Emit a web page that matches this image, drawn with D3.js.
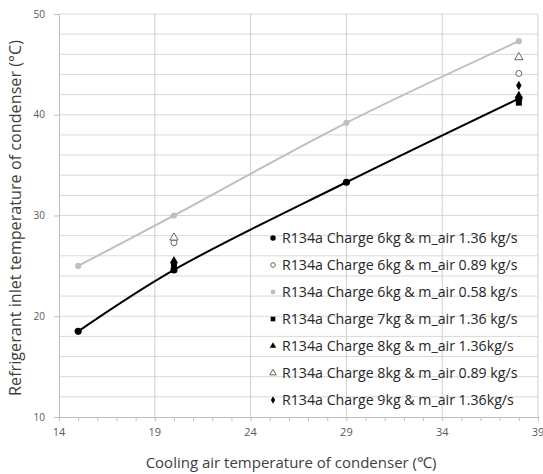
<!DOCTYPE html>
<html>
<head>
<meta charset="utf-8">
<script src="https://cdn.jsdelivr.net/npm/d3@7"></script>
<style>
  body { margin: 0; background: #fff; }
  svg { font-family: "Open Sans", "Noto Sans", sans-serif; }
</style>
</head>
<body>
<svg width="543" height="474"></svg>
<script>
// values
var xTicks = [14, 19, 24, 29, 34, 39];
var yTicks = [10, 20, 30, 40, 50];

var c6kg136x = [15, 20, 29, 38];
var c6kg136y = [18.5, 24.6, 33.3, 41.6];
var c6kg089x = [20, 38];
var c6kg089y = [27.3, 44.1];
var c6kg058x = [15, 20, 29, 38];
var c6kg058y = [25.0, 30.0, 39.2, 47.3];
var c7kg136x = [20, 38];
var c7kg136y = [25.2, 41.2];
var c8kg136x = [20, 38];
var c8kg136y = [25.5, 41.9];
var c8kg089x = [20, 38];
var c8kg089y = [27.8, 45.7];
var c9kg136x = [20, 38];
var c9kg136y = [24.9, 42.9];

var legendLabels = [
    "R134a Charge 6kg & m_air 1.36 kg/s",
    "R134a Charge 6kg & m_air 0.89 kg/s",
    "R134a Charge 6kg & m_air 0.58 kg/s",
    "R134a Charge 7kg & m_air 1.36 kg/s",
    "R134a Charge 8kg & m_air 1.36kg/s",
    "R134a Charge 8kg & m_air 0.89 kg/s",
    "R134a Charge 9kg & m_air 1.36kg/s"
];

function zip(xs, ys) {
    return xs.map(function(x, i) { return {x: x, y: ys[i]}; });
}

var series = [
    {pts: zip(c6kg136x, c6kg136y), sym: d3.symbolCircle, size: 40, fill: "#000", stroke: "none", line: "#000"},
    {pts: zip(c6kg089x, c6kg089y), sym: d3.symbolCircle, size: 28, fill: "#fff", stroke: "#666"},
    {pts: zip(c6kg058x, c6kg058y), sym: d3.symbolCircle, size: 30, fill: "#bfbfbf", stroke: "none", line: "#bfbfbf"},
    {pts: zip(c7kg136x, c7kg136y), sym: d3.symbolSquare, size: 36, fill: "#000", stroke: "none"},
    {pts: zip(c8kg136x, c8kg136y), sym: d3.symbolTriangle, size: 30, fill: "#000", stroke: "none"},
    {pts: zip(c8kg089x, c8kg089y), sym: d3.symbolTriangle, size: 30, fill: "#fff", stroke: "#666"},
    {pts: zip(c9kg136x, c9kg136y), sym: d3.symbolDiamond, size: 26, fill: "#000", stroke: "none"}
];

var svg = d3.select("svg");
var plotLeft = 59, plotRight = 538, plotTop = 14, plotBottom = 417;

var x = d3.scaleLinear().domain([14, 39]).range([plotLeft, plotRight]);
var y = d3.scaleLinear().domain([10, 50]).range([plotBottom, plotTop]);

// grid
svg.append("g")
    .selectAll("line")
    .data(d3.range(12, 51, 2))
    .enter()
    .append("line")
    .attr("x1", plotLeft).attr("x2", plotRight)
    .attr("y1", function(d) { return y(d); })
    .attr("y2", function(d) { return y(d); })
    .attr("stroke", "#d9d9d9");

svg.append("g")
    .selectAll("line")
    .data(xTicks.slice(1))
    .enter()
    .append("line")
    .attr("x1", function(d) { return x(d); })
    .attr("x2", function(d) { return x(d); })
    .attr("y1", plotTop).attr("y2", plotBottom)
    .attr("stroke", "#d0d0d0");

// axes
var xAxis = svg.append("g")
    .attr("transform", "translate(0," + plotBottom + ")")
    .call(d3.axisBottom(x).tickValues(d3.range(14, 40, 1)).tickSize(4).tickFormat(""));
xAxis.select(".domain").attr("stroke", "#bfbfbf");
xAxis.selectAll(".tick line").attr("stroke", "#bfbfbf");

svg.append("g")
    .selectAll("text")
    .data(xTicks)
    .enter()
    .append("text")
    .attr("x", function(d) { return x(d); })
    .attr("y", plotBottom + 19)
    .attr("text-anchor", "middle")
    .attr("font-size", 11)
    .attr("fill", "#595959")
    .text(function(d) { return d; });

var yAxis = svg.append("g")
    .attr("transform", "translate(" + plotLeft + ",0)")
    .call(d3.axisLeft(y).tickValues(yTicks).tickSize(5).tickPadding(9));
yAxis.select(".domain").attr("stroke", "#bfbfbf");
yAxis.selectAll(".tick line").attr("stroke", "#bfbfbf");
yAxis.selectAll(".tick text")
    .attr("font-size", 10)
    .attr("fill", "#595959")
    .attr("font-family", "Open Sans, sans-serif");

// lines (smoothed like the spreadsheet original)
var line = d3.line()
    .x(function(d) { return x(d.x); })
    .y(function(d) { return y(d.y); })
    .curve(d3.curveCatmullRom.alpha(0.5));

series.filter(function(s) { return s.line; }).forEach(function(s) {
    svg.append("path")
        .datum(s.pts)
        .attr("d", line)
        .attr("fill", "none")
        .attr("stroke", s.line)
        .attr("stroke-width", 2);
});

// markers
series.forEach(function(s) {
    svg.append("g")
        .selectAll("path")
        .data(s.pts)
        .enter()
        .append("path")
        .attr("transform", function(d) { return "translate(" + x(d.x) + "," + y(d.y) + ")"; })
        .attr("d", d3.symbol().type(s.sym).size(s.size))
        .attr("fill", s.fill)
        .attr("stroke", s.stroke)
        .attr("stroke-width", 1);
});

// legend
var legend = svg.append("g")
    .selectAll("g")
    .data(series)
    .enter()
    .append("g")
    .attr("transform", function(d, i) { return "translate(273," + (238 + i * 27) + ")"; });

legend.append("path")
    .attr("d", function(d) { return d3.symbol().type(d.sym).size(d.size * 0.6)(); })
    .attr("fill", function(d) { return d.fill; })
    .attr("stroke", function(d) { return d.stroke; });

legend.append("text")
    .attr("x", 9)
    .attr("dy", "0.35em")
    .attr("font-size", 14.2)
    .attr("fill", "#262626")
    .text(function(d, i) { return legendLabels[i]; });

// titles
svg.append("text")
    .attr("transform", "translate(21,218) rotate(-90)")
    .attr("text-anchor", "middle")
    .attr("font-size", 16.2)
    .attr("fill", "#404040")
    .text("Refrigerant inlet temperature of condenser (°C)");

svg.append("text")
    .attr("x", 291)
    .attr("y", 468)
    .attr("text-anchor", "middle")
    .attr("font-size", 15)
    .attr("fill", "#404040")
    .text("Cooling air temperature of  condenser (℃)");
</script>
</body>
</html>
